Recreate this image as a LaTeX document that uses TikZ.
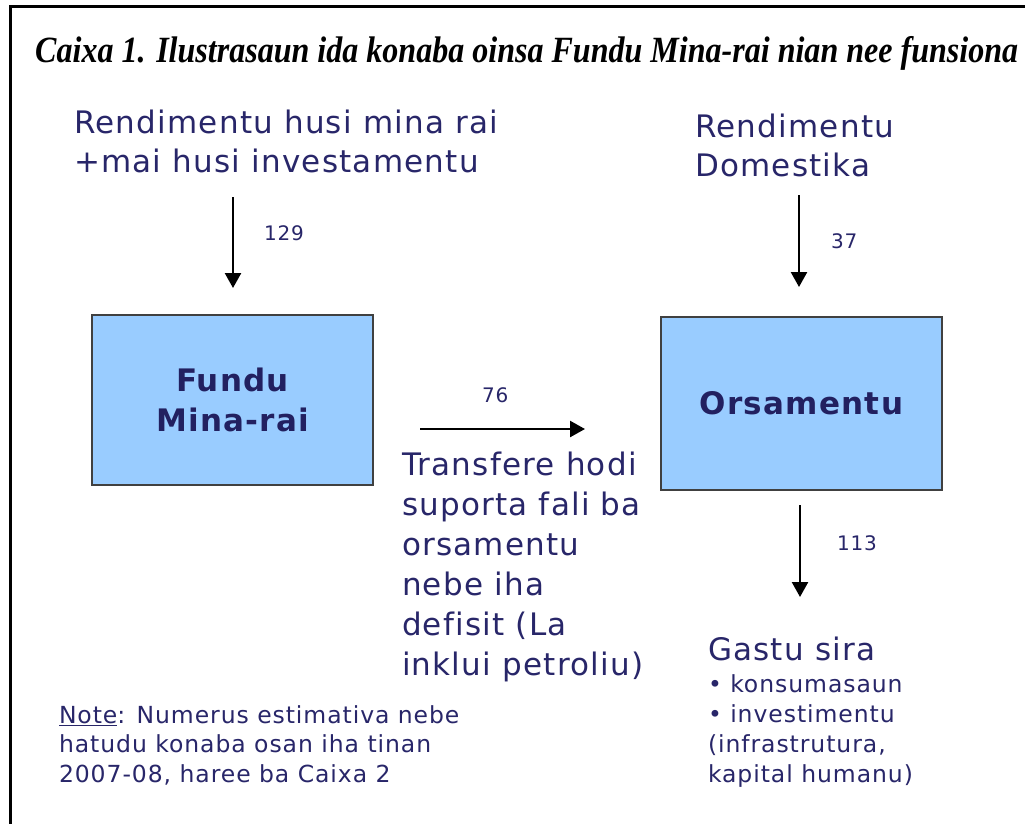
\documentclass[tikz,border=0pt]{standalone}
\usepackage{fontspec}
\usepackage{graphicx}
\setmainfont{DejaVu Sans}[LetterSpace=4,Ligatures=NoCommon]
\newfontfamily\titlefont{Liberation Serif}
\usetikzlibrary{arrows.meta}
\definecolor{navy}{RGB}{40,38,105}
\definecolor{navydark}{RGB}{34,32,96}
\definecolor{boxblue}{RGB}{153,204,255}
\definecolor{boxline}{RGB}{64,64,64}
\tikzset{
 txt/.style={anchor=base west, inner sep=0pt, outer sep=0pt, text=navy, align=left},
 big/.style={txt, font=\fontsize{31}{39}\selectfont},
 num/.style={txt, font=\fontsize{20}{24}\selectfont},
 small/.style={txt, font=\fontsize{23.5}{30}\selectfont},
 boxnode/.style={draw=boxline, line width=1.2pt, fill=boxblue, minimum width=281pt, minimum height=170pt, inner sep=0pt, text=navydark, align=center, font=\fontsize{31}{40}\selectfont\bfseries},
 flow/.style={line width=2.4pt, -{Triangle[width=16pt,length=15pt]}},
}
\begin{document}
\begin{tikzpicture}[x=1pt,y=-1pt]
\useasboundingbox (0,0) rectangle (1025,823);
% frame
\draw[line width=3pt] (10,830) -- (10,6) -- (1030,6);
% title
\node[anchor=base west, inner sep=0pt] (title) at (35,62) {\resizebox{983pt}{\height}{\titlefont\bfseries\itshape\fontsize{37}{40}\selectfont Caixa 1. Ilustrasaun ida konaba oinsa Fundu Mina-rai nian nee funsiona}};
% texts (base anchor = last line)
\node[big] (src1) at (74,172) {Rendimentu husi mina rai\\+mai husi investamentu};
\node[big] (src2) at (695,176) {Rendimentu\\Domestika};
\node[num] (n129) at (264,240) {129};
\node[num] (n37) at (831,248) {37};
\node[num] (n76) at (482,402) {76};
\node[num] (n113) at (837,550) {113};
% boxes
\node[boxnode] (fund) at (232.5,400) {Fundu\\Mina-rai};
\node[boxnode, minimum height=173pt] (orsa) at (801.5,403.5) {Orsamentu};
% transfer text
\node[txt, font=\fontsize{31}{40}\selectfont] (transf) at (402,675) {Transfere hodi\\suporta fali ba\\orsamentu\\nebe iha\\defisit (La\\inklui petroliu)};
% spending
\node[txt, font=\fontsize{31}{32}\selectfont] (gastu) at (708,660) {Gastu sira};
\node[small] (items) at (708,782) {• konsumasaun\\• investimentu\\(infrastrutura,\\kapital humanu)};
% note
\node[txt, font=\fontsize{23.5}{29.5}\selectfont] (note) at (59,782) {\underline{Note}: Numerus estimativa nebe\\hatudu konaba osan iha tinan\\2007-08, haree ba Caixa 2};
% arrows
\coordinate (a1s) at (233,197); \coordinate (a1e) at (233,288);
\coordinate (a2s) at (799,195); \coordinate (a2e) at (799,287);
\coordinate (a3s) at (420,429); \coordinate (a3e) at (585,429);
\coordinate (a4s) at (800,505); \coordinate (a4e) at (800,597);
\draw[flow] (a1s) -- (a1e);
\draw[flow] (a2s) -- (a2e);
\draw[flow] (a3s) -- (a3e);
\draw[flow] (a4s) -- (a4e);
\end{tikzpicture}
\end{document}
